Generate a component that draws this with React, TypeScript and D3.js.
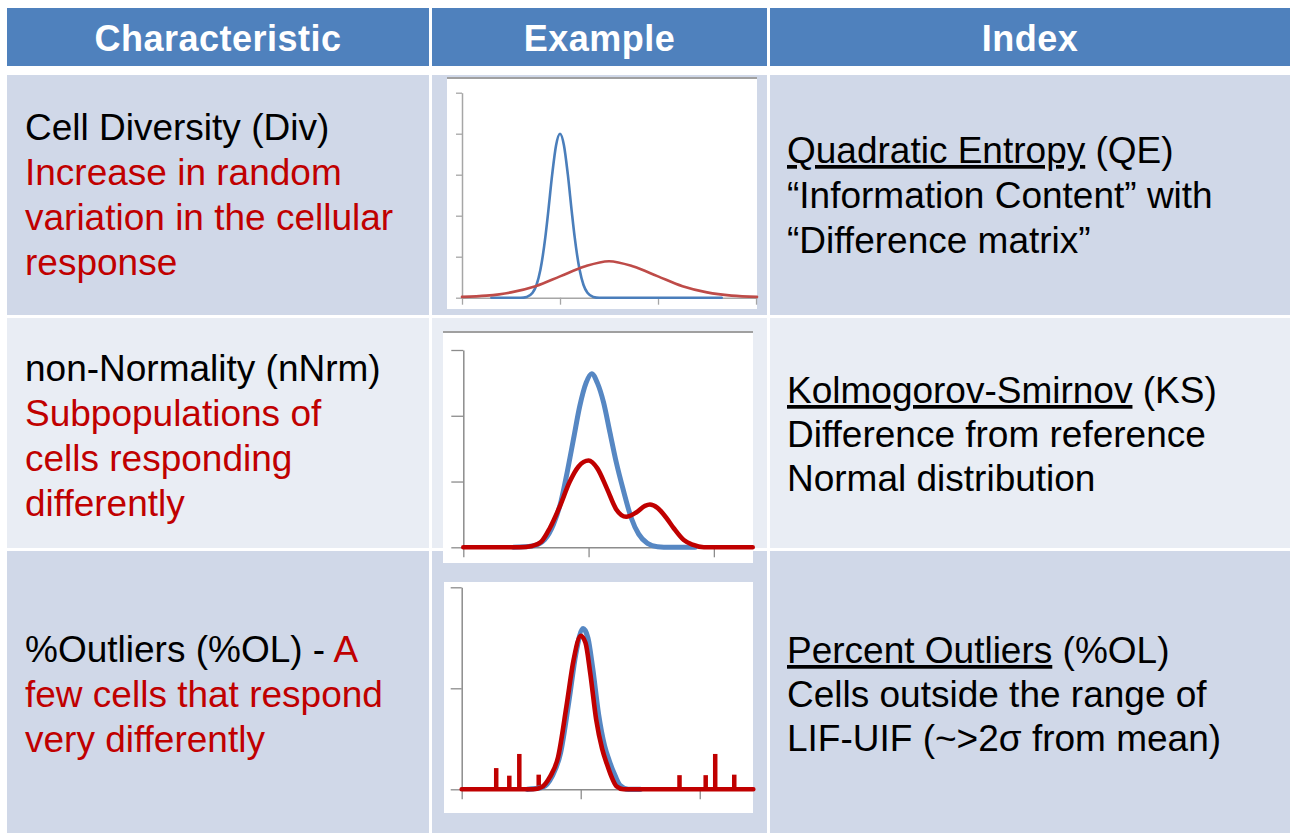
import React, { useEffect, useRef } from "react";
import * as d3 from "d3";

// ---------- DATA ----------
const headers = ["Characteristic", "Example", "Index"];

const charTitles = ["Cell Diversity (Div)", "non-Normality (nNrm)", "%Outliers (%OL) - "];
const charInline = ["", "", "A"];
const charDescs = [
  ["Increase in random", "variation in the cellular", "response"],
  ["Subpopulations of", "cells responding", "differently"],
  ["few cells that respond", "very differently"],
];

const indexNames = ["Quadratic Entropy", "Kolmogorov-Smirnov", "Percent Outliers"];
const indexAbbr = [" (QE)", " (KS)", " (%OL)"];
const indexDescs = [
  ["\u201CInformation Content\u201D with", "\u201CDifference matrix\u201D"],
  ["Difference from reference", "Normal distribution"],
  ["Cells outside the range of", "LIF-UIF (~>2\u03C3 from mean)"],
];

// Example 1: cell diversity (narrow vs wide distribution)
const div_narrow: [number, number][] = [
  [0.3, 0], [0.6, 0], [0.66, 0.02], [0.72, 0.12], [0.76, 0.31], [0.8, 0.68], [0.85, 1.47],
  [0.88, 2.1], [0.92, 3.0], [0.96, 3.72], [1.0, 4.0], [1.04, 3.72], [1.08, 3.0], [1.12, 2.1],
  [1.15, 1.47], [1.2, 0.68], [1.24, 0.31], [1.28, 0.12], [1.34, 0.02], [1.4, 0], [2.65, 0],
];
const div_wide: [number, number][] = [
  [0, 0.02], [0.25, 0.05], [0.5, 0.13], [0.75, 0.28], [1.0, 0.52], [1.25, 0.76], [1.5, 0.89],
  [1.75, 0.76], [2.0, 0.52], [2.25, 0.28], [2.5, 0.13], [2.75, 0.05], [3.01, 0.02],
];
const div_xTicks = [0, 1, 2, 3];
const div_yTicks = [0, 1, 2, 3, 4, 5];

// Example 2: non-normality (normal vs bimodal)
const nrm_normal: [number, number][] = [
  [0.4, 0], [0.55, 0.02], [0.65, 0.12], [0.72, 0.35], [0.78, 0.7], [0.83, 1.15], [0.88, 1.65],
  [0.93, 2.15], [0.98, 2.5], [1.025, 2.64], [1.07, 2.5], [1.12, 2.2], [1.17, 1.75], [1.22, 1.3],
  [1.28, 0.85], [1.34, 0.45], [1.4, 0.2], [1.47, 0.06], [1.55, 0.01], [1.65, 0], [1.85, 0],
];
const nrm_bimodal: [number, number][] = [
  [0, 0], [0.45, 0], [0.55, 0.02], [0.62, 0.08], [0.69, 0.29], [0.77, 0.62], [0.85, 1.0],
  [0.92, 1.23], [1.0, 1.32], [1.07, 1.2], [1.145, 0.9], [1.22, 0.58], [1.3, 0.465], [1.38, 0.53],
  [1.45, 0.63], [1.49, 0.65], [1.55, 0.6], [1.62, 0.45], [1.68, 0.29], [1.76, 0.11], [1.83, 0.04],
  [1.92, 0], [2.31, 0],
];
const nrm_xTicks = [0, 1, 2];
const nrm_yTicks = [0, 1, 2, 3];

// Example 3: outliers
const ol_reference: [number, number][] = [
  [0.55, 0], [0.68, 0.02], [0.76, 0.13], [0.83, 0.36], [0.9, 0.87], [0.96, 1.35], [1.02, 1.59],
  [1.06, 1.5], [1.1, 1.2], [1.15, 0.74], [1.2, 0.43], [1.24, 0.28], [1.29, 0.13], [1.33, 0.04],
  [1.4, 0], [1.5, 0],
];
const ol_sample: [number, number][] = [
  [0, 0], [0.6, 0], [0.67, 0.02], [0.74, 0.12], [0.81, 0.32], [0.88, 0.82], [0.94, 1.28],
  [1.0, 1.52], [1.04, 1.45], [1.08, 1.15], [1.13, 0.69], [1.18, 0.4], [1.22, 0.25], [1.26, 0.12],
  [1.3, 0.03], [1.36, 0], [2.45, 0],
];
const ol_barX = [0.29, 0.4, 0.484, 0.647, 1.83, 2.05, 2.13, 2.29];
const ol_barH = [0.21, 0.135, 0.35, 0.145, 0.14, 0.14, 0.35, 0.145];
const ol_xTicks = [0, 1, 2];
const ol_yTicks = [0, 1, 2];

// ---------- LAYOUT ----------
const W = 1290;
const H = 833;
const cols = [
  { x: 7, w: 422 },
  { x: 432, w: 335 },
  { x: 770, w: 520 },
];
const header = { y: 8, h: 58 };
const rows = [
  { y: 75, h: 240 },
  { y: 318, h: 230 },
  { y: 551, h: 282 },
];
const rowFill = ["#D0D8E8", "#E9EDF4", "#D0D8E8"];
const charBase = [140, 381, 662];
const indexBase = [163, 403, 663];
const LH = 45;
const RED = "#C00000";
const FONT = "'Liberation Sans', Arial, sans-serif";

type Series = { data: [number, number][]; color: string; width: number };
type ChartCfg = {
  box: { x: number; y: number; w: number; h: number };
  topLine: boolean;
  xDomain: [number, number];
  xRange: [number, number];
  yDomain: [number, number];
  yRange: [number, number];
  xTicks: number[];
  yTicks: number[];
  xTickLen: number;
  yTickLen: number;
  axisColor: string;
  series: Series[];
  bars?: { x: number[]; h: number[]; color: string; width: number };
  blur: boolean;
};

const charts: ChartCfg[] = [
  {
    box: { x: 447, y: 78, w: 310, h: 231 },
    topLine: true,
    xDomain: [0, 3.01],
    xRange: [462, 757],
    yDomain: [0, 5],
    yRange: [297.7, 92.7],
    xTicks: div_xTicks,
    yTicks: div_yTicks,
    xTickLen: 7,
    yTickLen: 6,
    axisColor: "#A6A6A6",
    series: [
      { data: div_narrow, color: "#4A7EBB", width: 2.6 },
      { data: div_wide, color: "#BE4B48", width: 2.6 },
    ],
    blur: false,
  },
  {
    box: { x: 443, y: 332, w: 310, h: 231 },
    topLine: true,
    xDomain: [0, 2.31],
    xRange: [463.3, 752.7],
    yDomain: [0, 3],
    yRange: [547.3, 350],
    xTicks: nrm_xTicks,
    yTicks: nrm_yTicks,
    xTickLen: 10,
    yTickLen: 12,
    axisColor: "#8C8C8C",
    series: [
      { data: nrm_normal, color: "#5687C3", width: 5 },
      { data: nrm_bimodal, color: RED, width: 4.6 },
    ],
    blur: true,
  },
  {
    box: { x: 444, y: 582, w: 309, h: 231 },
    topLine: false,
    xDomain: [0, 2.45],
    xRange: [461.7, 753.3],
    yDomain: [0, 2],
    yRange: [789.3, 587.3],
    xTicks: ol_xTicks,
    yTicks: ol_yTicks,
    xTickLen: 10,
    yTickLen: 11,
    axisColor: "#8C8C8C",
    series: [
      { data: ol_reference, color: "#5687C3", width: 5.2 },
      { data: ol_sample, color: RED, width: 4.6 },
    ],
    bars: { x: ol_barX, h: ol_barH, color: RED, width: 4.5 },
    blur: true,
  },
];

function Chart({ cfg, id }: { cfg: ChartCfg; id: number }) {
  const xRef = useRef<SVGGElement>(null);
  const yRef = useRef<SVGGElement>(null);
  const xs = d3.scaleLinear().domain(cfg.xDomain).range(cfg.xRange);
  const ys = d3.scaleLinear().domain(cfg.yDomain).range(cfg.yRange);

  useEffect(() => {
    const xa = d3
      .axisBottom(xs)
      .tickValues(cfg.xTicks)
      .tickSizeInner(cfg.xTickLen)
      .tickSizeOuter(0)
      .tickFormat(() => "");
    const ya = d3
      .axisLeft(ys)
      .tickValues(cfg.yTicks)
      .tickSizeInner(cfg.yTickLen)
      .tickSizeOuter(0)
      .tickFormat(() => "");
    const gx = d3.select(xRef.current!).call(xa as any);
    const gy = d3.select(yRef.current!).call(ya as any);
    [gx, gy].forEach((g) => {
      g.selectAll("path.domain").attr("stroke", cfg.axisColor).attr("stroke-width", 1.5);
      g.selectAll(".tick line").attr("stroke", cfg.axisColor).attr("stroke-width", 1.3);
    });
  }, []);

  const line = d3
    .line<[number, number]>()
    .x((d) => xs(d[0]))
    .y((d) => ys(d[1]))
    .curve(d3.curveMonotoneX);

  const { box } = cfg;
  return (
    <g>
      {cfg.blur && (
        <defs>
          <filter id={`soft${id}`} x="-5%" y="-5%" width="110%" height="110%">
            <feGaussianBlur stdDeviation="0.6" />
          </filter>
        </defs>
      )}
      <rect x={box.x} y={box.y} width={box.w} height={box.h} fill="#FFFFFF" />
      {cfg.topLine && (
        <line x1={box.x} x2={box.x + box.w} y1={box.y} y2={box.y} stroke="#A0A0A0" strokeWidth={2.2} />
      )}
      <g ref={yRef} transform={`translate(${cfg.xRange[0]},0)`} />
      <g ref={xRef} transform={`translate(0,${cfg.yRange[0]})`} />
      <g filter={cfg.blur ? `url(#soft${id})` : undefined}>
        {cfg.bars &&
          cfg.bars.x.map((bx, i) => (
            <rect
              key={i}
              x={xs(bx) - cfg.bars!.width / 2}
              y={ys(cfg.bars!.h[i])}
              width={cfg.bars!.width}
              height={ys(0) - ys(cfg.bars!.h[i])}
              fill={cfg.bars!.color}
            />
          ))}
        {cfg.series.map((s, i) => (
          <path
            key={i}
            d={line(s.data) || ""}
            fill="none"
            stroke={s.color}
            strokeWidth={s.width}
            strokeLinejoin="round"
            strokeLinecap="round"
          />
        ))}
      </g>
    </g>
  );
}

export default function App() {
  return (
    <svg
      width={W}
      height={H}
      viewBox={`0 0 ${W} ${H}`}
      style={{ position: "absolute", left: 0, top: 0, background: "#FFFFFF" }}
      fontFamily={FONT}
    >
      <rect x={0} y={0} width={W} height={H} fill="#FFFFFF" />
      {/* header */}
      {cols.map((c, i) => (
        <g key={`h${i}`}>
          <rect x={c.x} y={header.y} width={c.w} height={header.h} fill="#4F81BD" />
          <text
            x={c.x + c.w / 2}
            y={51}
            textAnchor="middle"
            fill="#FFFFFF"
            fontWeight="bold"
            fontSize={36}
            letterSpacing={0.5}
          >
            {headers[i]}
          </text>
        </g>
      ))}
      {/* body cells */}
      {rows.map((r, ri) =>
        cols.map((c, ci) => (
          <rect key={`c${ri}-${ci}`} x={c.x} y={r.y} width={c.w} height={r.h} fill={rowFill[ri]} />
        ))
      )}
      {/* characteristic column */}
      {rows.map((r, ri) => (
        <text key={`ch${ri}`} fontSize={37} x={25} y={charBase[ri]}>
          <tspan x={25} y={charBase[ri]} fill="#000000">
            {charTitles[ri]}
            {charInline[ri] && <tspan fill={RED}>{charInline[ri]}</tspan>}
          </tspan>
          {charDescs[ri].map((t, li) => (
            <tspan key={li} x={25} y={charBase[ri] + LH * (li + 1)} fill={RED}>
              {t}
            </tspan>
          ))}
        </text>
      ))}
      {/* index column */}
      {rows.map((r, ri) => (
        <text key={`ix${ri}`} fontSize={37} x={787} y={indexBase[ri]} fill="#000000">
          <tspan x={787} y={indexBase[ri]}>
            <tspan textDecoration="underline" style={{ textDecoration: "underline" }}>
              {indexNames[ri]}
            </tspan>
            {indexAbbr[ri]}
          </tspan>
          {indexDescs[ri].map((t, li) => (
            <tspan key={li} x={787} y={indexBase[ri] + (ri === 0 ? 45 : 44) * (li + 1)}>
              {t}
            </tspan>
          ))}
        </text>
      ))}
      {/* example charts */}
      {charts.map((cfg, i) => (
        <Chart key={i} cfg={cfg} id={i} />
      ))}
    </svg>
  );
}
